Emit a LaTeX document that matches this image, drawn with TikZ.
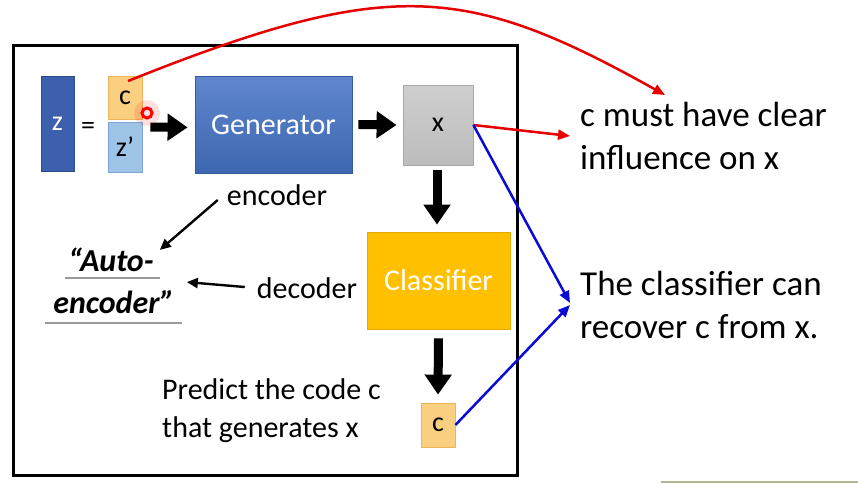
\documentclass[tikz,border=0pt]{standalone}
\usepackage{fontspec}
\setmainfont{Carlito}
\usetikzlibrary{arrows.meta,calc}
\definecolor{zblue}{HTML}{3C60AE}
\definecolor{genblue}{HTML}{4472C4}
\definecolor{corange}{HTML}{FBCF80}
\definecolor{cborder}{HTML}{EDB55A}
\definecolor{zplight}{HTML}{9DC3E6}
\definecolor{zpborder}{HTML}{7FA6D2}
\definecolor{clsorange}{HTML}{FFC000}
\definecolor{clsborder}{HTML}{E3A900}
\definecolor{xgray}{HTML}{C6C6C6}
\definecolor{myred}{HTML}{E60000}
\definecolor{myblue}{HTML}{0A0AD8}
\definecolor{olive}{HTML}{B3B791}
\tikzset{
  box/.style={draw, line width=0.8pt, inner sep=0pt, minimum width=#1},
  fatarrow/.style={line width=9pt, -{Triangle[length=20pt,width=26pt]}},
  thinarrow/.style={line width=2.5pt, -{Triangle[length=12pt,width=10pt]}},
  blackarrow/.style={line width=2.4pt, -{Triangle[length=11pt,width=10pt]}},
  txt/.style={inner sep=0pt, font=\fontsize{30}{38}\selectfont},
  bigtxt/.style={inner sep=0pt, align=left, font=\fontsize{35}{43}\selectfont},
  autotxt/.style={inner sep=0pt, font=\fontsize{32}{40}\selectfont\bfseries\itshape},
  uline/.style={line width=2pt, draw=gray!80}
}
\begin{document}
\begin{tikzpicture}[x=1pt,y=-1pt]
\useasboundingbox (0,0) rectangle (858,483);
% frame
\draw[line width=3pt] (13,45) rectangle (517,475);
% boxes
\node[box=33pt, minimum height=95pt, fill=zblue, draw=zblue!80!black, text=white,
      font=\fontsize{28}{30}\selectfont] (z) at (57.5,123.5) {z};
\node[inner sep=0pt, font=\fontsize{28}{30}\selectfont] (eq) at (88,128) {=};
\node[box=34pt, minimum height=43pt, fill=corange, draw=cborder,
      font=\fontsize{28}{30}\selectfont] (c) at (125,97.5) {c};
\node[box=34pt, minimum height=50pt, fill=zplight, draw=zpborder,
      font=\fontsize{28}{30}\selectfont] (zp) at (125,147) {z’};
\node[box=157pt, minimum height=97pt, top color=genblue!85!white, bottom color=genblue!90!black,
      draw=genblue!80!black, text=white, font=\fontsize{30}{36}\selectfont] (gen) at (273.5,124.5) {Generator};
\node[box=70pt, minimum height=80pt, top color=xgray!85!white, bottom color=xgray!95!black,
      draw=xgray!85!black, font=\fontsize{28}{30}\selectfont] (xb) at (438,125) {x};
\node[box=143pt, minimum height=97pt, fill=clsorange, draw=clsborder, text=white,
      font=\fontsize{30}{36}\selectfont] (cls) at (438.5,280.5) {Classifier};
\node[box=34pt, minimum height=44pt, fill=corange, draw=cborder,
      font=\fontsize{28}{30}\selectfont] (cout) at (438,425) {c};
% texts
\node[txt] (enc) at (277,195) {encoder};
\node[txt] (dec) at (307,288) {decoder};
\node[autotxt] (auto1) at (111,260) {“Auto-};
\node[autotxt] (auto2) at (114,302) {encoder”};
\draw[uline] (65,278) -- (160,278);
\draw[uline] (45,323) -- (182,323);
\node[txt, align=left, anchor=west] (pred) at (162,411) {Predict the code c\\that generates x};
\node[bigtxt, anchor=west] (rightA) at (580,136) {c must have clear\\influence on x};
\node[bigtxt, anchor=west] (rightB) at (580,305) {The classifier can\\recover c from x.};
% fat arrows
\draw[fatarrow] ($(c.south east |- gen.west)+(8,2.5)$) -- ($(gen.west |- c.south east)+(-7,8)$);
\draw[fatarrow] ($(gen.east)+(6,0)$) -- ($(xb.west)+(-6,0)$);
\draw[fatarrow] ($(xb.south)+(-1,5)$) -- ($(cls.north)+(-1.5,-7)$);
\draw[fatarrow] ($(cls.south)+(0,9)$) -- ($(cout.north)+(0,-8)$);
% encoder / decoder arrows
\draw[blackarrow] ($(enc.west)+(-9,5)$) -- ($(auto1.north east)+(6,2)$);
\draw[blackarrow] ($(dec.west)+(-12,-1)$) -- ($(auto1.south east)+(33,10)$);
% red / blue arrows
\coordinate (redend) at ($(rightA.west)+(85,-41)$);
\draw[thinarrow, draw=myred] ($(c.center)+(3,-16.5)$) .. controls (388,-23) and (465,-17) .. (redend);
\draw[thinarrow, draw=myred] (xb.east) -- ($(rightA.west)+(-10,0)$);
\draw[thinarrow, draw=myblue] (xb.east) -- ($(rightB.west)+(-10,-2)$);
\draw[thinarrow, draw=myblue] (cout.east) -- ($(rightB.west)+(-10,0)$);
% pointer
\fill[red, opacity=0.12] (147,113) circle[radius=13pt];
\draw[red, line width=3pt] (147,113) circle[radius=5pt];
% bottom line
\draw[olive, line width=2pt] (661,482) -- (858,482);
\end{tikzpicture}
\end{document}
